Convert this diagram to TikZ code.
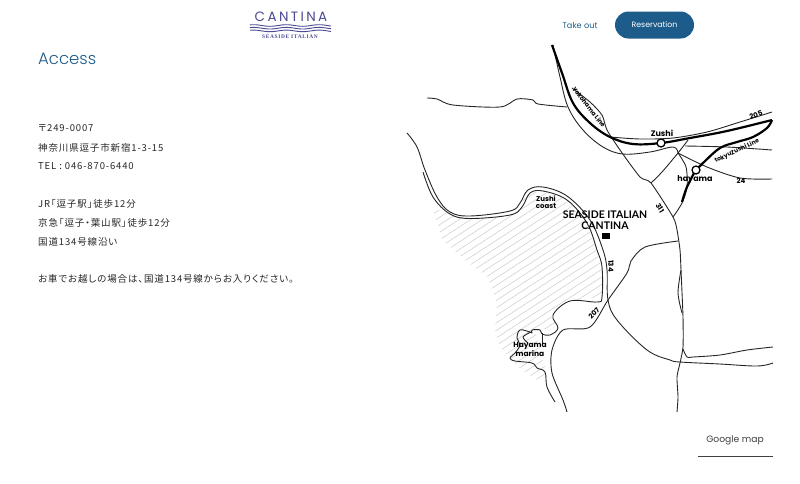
\documentclass[tikz,border=0pt]{standalone}
\usepackage{fontspec}
\setmainfont[UprightFont=* Light,BoldFont=* Bold]{Poppins}
\newfontfamily\jpfont[LetterSpace=9,RawFeature={+palt}]{Noto Sans CJK JP}
\newfontfamily\mapfont{Lato}
\newfontfamily\labelfont{Poppins}
\newfontfamily\markfont[LetterSpace=12]{Liberation Serif}
\usepackage{xcolor}
\definecolor{cantinablue}{HTML}{1D5C8A}
\definecolor{cantinaink}{HTML}{4A4890}
\begin{document}
\begin{tikzpicture}[x=1pt,y=-1pt,
				info line/.style={anchor=west,inner sep=0pt,font=\jpfont\fontsize{9.5}{11}\selectfont,text=black!85},
				map label/.style={inner sep=0pt,font=\labelfont\bfseries\fontsize{7}{8}\selectfont,text=black},
				place label/.style={map label,align=center,font=\mapfont\bfseries\fontsize{10.5}{11}\selectfont},
				road/.style={draw=black!85,line width=0.9pt,line join=round},
				rail/.style={draw=black,line width=2.2pt,line join=round},
				station/.style={circle,draw=black,fill=white,line width=1.3pt,minimum size=8pt,inner sep=0pt},
				hatch line/.style={draw=black!18,line width=0.6pt}]
				\useasboundingbox (0,0) rectangle (800,483);
				
				% header
				\node[inner sep=0pt,text=cantinaink,font=\labelfont\fontsize{13.5}{14}\selectfont] (logo) at (291,16.5) {C\kern2.4pt A\kern2.4pt N\kern2.4pt T\kern2.4pt I\kern2.4pt N\kern2.4pt A};
				\foreach \wy in {25.5,28.2,30.9}
				\draw[cantinaink,line width=0.9pt] plot[domain=250:331,samples=70] (\x,{\wy+0.8*sin(\x*11)});
				\node[inner sep=0pt,text=cantinaink,font=\markfont\bfseries\fontsize{5.4}{6}\selectfont] (tagline) at (290,36.5) {SEASIDE ITALIAN};
				\node[inner sep=0pt,text=cantinablue,font=\labelfont\fontsize{8.2}{11}\selectfont] (takeout) at (580,25.5) {Take out};
				\node[rounded corners=13.5pt,fill=cantinablue,text=white,minimum width=79pt,minimum height=27pt,inner sep=0pt,font=\labelfont\fontsize{7.8}{11}\selectfont] (reserve) at (654.5,25) {Reservation};
				
				% left column
				\node[anchor=west,inner sep=0pt,text=cantinablue,font=\fontsize{16.5}{20}\selectfont] (access) at (38,58.5) {Access};
				\node[info line] (zip) at (38,128.5) {〒249-0007};
				\node[info line] (addr) at (38,147.5) {神奈川県逗子市新宿1-3-15};
				\node[info line] (tel) at (38,166.5) {TEL : 046-870-6440};
				\node[info line] (jr) at (38,203.5) {JR「逗子駅」徒歩12分};
				\node[info line] (keikyu) at (38,222.5) {京急「逗子・葉山駅」徒歩12分};
				\node[info line] (route) at (38,241.5) {国道134号線沿い};
				\node[info line] (car) at (38,278.5) {お車でお越しの場合は、国道134号線からお入りください。};
				
				% sea
				\begin{scope}
				\clip (433,208) -- (442,240) -- (465,260) -- (488,277) -- (497,303) -- (495,330) -- (500,347) -- (518,367) -- (540,382) -- (547,375) -- (535,330) -- (558,328) -- (553,316) -- (570,301) -- (602,297) -- (602,267) -- (587,223) -- (567,200) -- (543,191) -- (530,193) -- (510,215) -- (470,218) -- (450,214) -- cycle;
				\foreach \h in {200,207.5,...,700}
				\draw[hatch line] (420,\h) -- (620,\h-130);
				\end{scope}
				
				% roads
				\draw[road] plot[smooth,tension=.5] coordinates {(427,98) (437,99) (453,105) (500,107) (517,99) (533,100) (538,104) (567,107)};
				\draw[road] plot[smooth,tension=.6] coordinates {(553,45) (560,77) (568,107) (583,130) (603,147) (623,154) (650,152) (673,147) (678,153)};
				\draw[road] plot[smooth,tension=.5] coordinates {(610,137) (640,139) (673,138) (707,132) (740,122) (772,112)};
				\draw[road] plot[smooth,tension=.4] coordinates {(572,88) (590,102) (602,115) (607,130) (620,150) (640,177) (651,183) (673,217) (677,230) (680,250) (681,270) (683,317) (683,347) (680,363) (677,377) (678,397) (677,412)};
				\draw[road] plot[smooth,tension=.5] coordinates {(681,270) (678,293) (682,313)};
				\draw[road] plot[smooth,tension=.5] coordinates {(651,183) (662,172) (678,153) (688,140)};
				\draw[road] plot[smooth,tension=.5] coordinates {(678,153) (686,167) (687,187) (682,203) (673,217)};
				\draw[road] plot[smooth,tension=.5] coordinates {(678,153) (707,167) (740,178) (772,179)};
				\draw[road] plot[smooth,tension=.5] coordinates {(685,146) (727,147) (772,150)};
				% coast
				\draw[road] plot[smooth,tension=.6] coordinates {(407,133) (417,147) (425,170) (437,197) (450,212) (470,216) (510,211) (520,203) (528,190) (543,187) (567,196) (590,220) (603,250) (607,270) (608,300) (617,320) (647,350) (670,360) (680,362) (720,364) (757,366) (773,363)};
				\draw[road] plot[smooth,tension=.6] coordinates {(423,172) (433,197) (450,214) (470,218.5) (510,215) (522,207) (530,193) (543,191) (567,200) (587,223) (597,250) (602,267) (602,297) (597,302) (570,301) (553,315) (558,328) (550,335) (542,334) (540,330) (532,330) (532,333) (530,332) (520,330) (517,338) (520,345) (515,353) (510,358) (515,361) (532,363) (537,368) (545,372) (547,387) (555,402)};
				\draw[road] (542,333) -- (542,344);
				\draw[road] plot[smooth,tension=.5] coordinates {(531,332) (523,337) (528,343)};
				\draw[road] plot[smooth,tension=.5] coordinates {(678,241) (645,247) (631,261) (627,273) (608,300) (590,327) (563,330) (552,350) (552,373) (563,400) (567,412)};
				\draw[road] plot[smooth,tension=.5] coordinates {(683,349) (687,357) (693,357) (720,355) (747,350) (773,347)};
				
				% railways
				\draw[rail] plot[smooth,tension=.6] coordinates {(552,45) (562,73) (573,103) (590,123) (610,137) (633,144) (661,143) (690,138) (727,131) (772,120)};
				\draw[rail] plot[smooth,tension=.6] coordinates {(772,120) (767,128) (753,137) (737,142) (720,148) (703,163) (696,170) (687,187) (682,202)};
				\node[station] (zushi) at (661,143) {};
				\node[station] (hayama) at (696,170) {};
				
				% labels
				\node[map label,rotate=-52,font=\labelfont\bfseries\fontsize{6.2}{7}\selectfont] (yokohama) at (589,107) {Yokohama Line};
				\node[map label,rotate=25,font=\labelfont\bfseries\fontsize{6}{7}\selectfont] (tokyu) at (737,151) {tokyuZushi Line};
				\node[map label,rotate=20] (r205) at (756,115) {205};
				\node[map label] (r24) at (741,181) {24};
				\node[map label,rotate=-60] (r311) at (660,208) {311};
				\node[map label,rotate=-90] (r134) at (611,266) {134};
				\node[map label,rotate=47] (r207) at (594,313) {207};
				\node[map label,font=\labelfont\bfseries\fontsize{8}{8}\selectfont] (zushilabel) at (662,133) {Zushi};
				\node[map label,font=\labelfont\bfseries\fontsize{8}{8}\selectfont] (hayamalabel) at (695,180) {hayama};
				\node[map label,align=center,font=\labelfont\bfseries\fontsize{7}{7.2}\selectfont] (coast) at (546,202.5) {Zushi\\coast};
				\node[map label,align=center,font=\labelfont\bfseries\fontsize{7.5}{7.4}\selectfont] (marina) at (530,349.5) {Hayama\\marina};
				\node[place label] (shop) at (605,220.5) {SEASIDE ITALIAN\\CANTINA};
				\node[fill=black,minimum width=8pt,minimum height=6pt,inner sep=0pt] (shopmark) at (606,236) {};
				
				% footer
				\node[inner sep=0pt,text=black!75,font=\labelfont\fontsize{9.2}{12}\selectfont] (google) at (735,440) {Google map};
				\coordinate (linea) at (697.5,456);
				\coordinate (lineb) at (773,456);
				\draw[black!75,line width=0.9pt] (linea) -- (lineb);
\end{tikzpicture}
\end{document}
